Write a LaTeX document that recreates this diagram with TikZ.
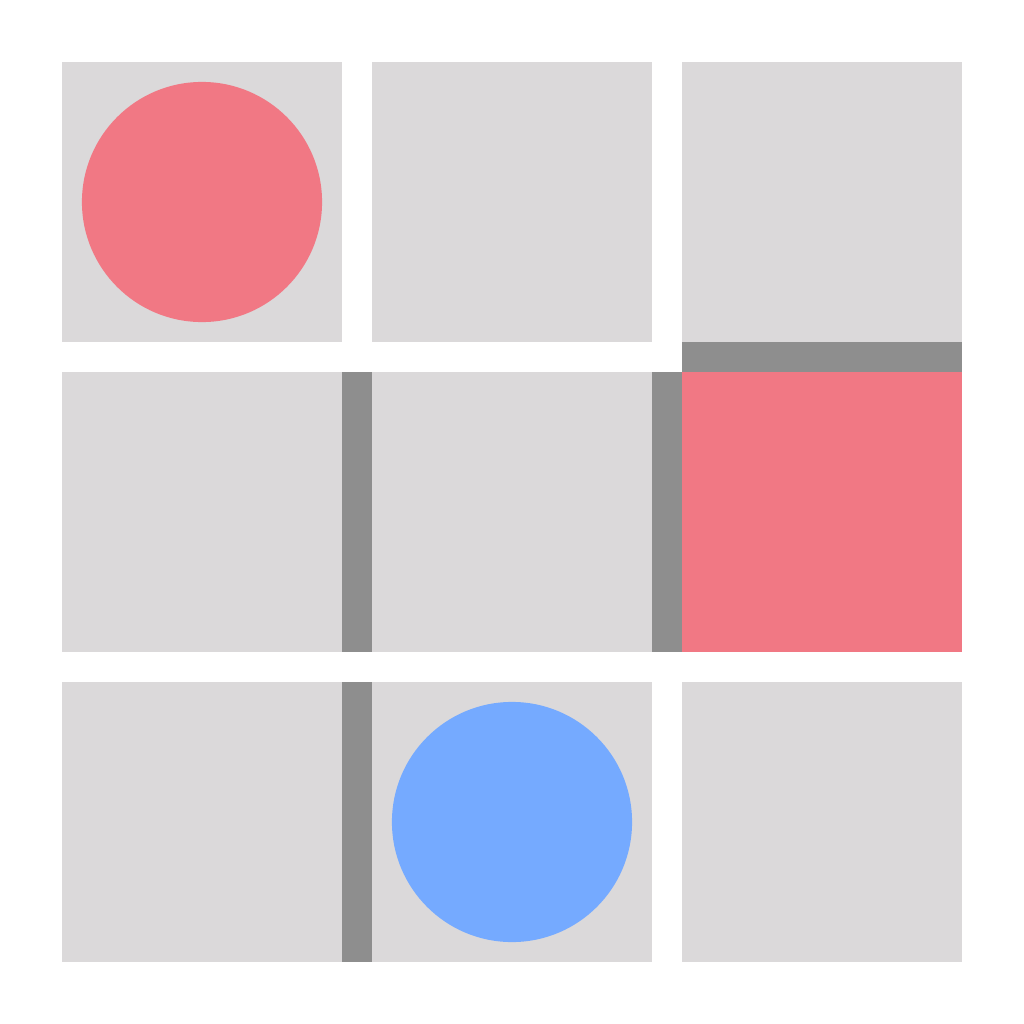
\documentclass[tikz,border=0pt]{standalone}
\definecolor{cellgray}{HTML}{DBD9DA}
\definecolor{wallgray}{HTML}{8E8E8E}
\definecolor{agentred}{HTML}{F17884}
\definecolor{agentblue}{HTML}{75AAFF}
\begin{document}
\begin{tikzpicture}[x=0.01cm,y=-0.01cm]
\useasboundingbox (0,0) rectangle (1024,1024);
% grid cells
\foreach \c in {0,1,2}
  \foreach \r in {0,1,2}
    \fill[cellgray] (62+310*\c,62+310*\r) rectangle +(280,280);
% goal cell
\fill[agentred] (682,372) rectangle (962,652);
% walls
\fill[wallgray] (342,372) rectangle (372,652);
\fill[wallgray] (342,682) rectangle (372,962);
\fill[wallgray] (652,372) rectangle (682,652);
\fill[wallgray] (682,342) rectangle (962,372);
% agents
\fill[agentred] (202,202) circle[radius=1.2cm];
\fill[agentblue] (512,822) circle[radius=1.2cm];
\end{tikzpicture}
\end{document}
